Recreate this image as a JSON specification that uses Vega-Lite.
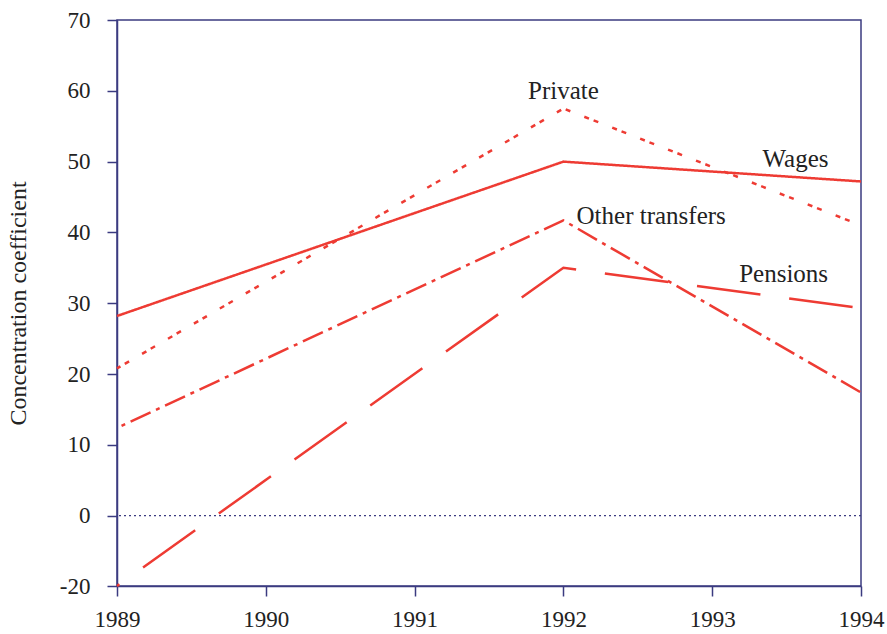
{
  "$schema": "https://vega.github.io/schema/vega-lite/v6.json",
  "autosize": "none",
  "width": 744,
  "height": 566,
  "padding": {"left": 117, "top": 20, "right": 26, "bottom": 48},
  "background": "white",
  "config": {
    "view": {"stroke": "#3b3b80", "strokeWidth": 1.5},
    "font": "Liberation Serif",
    "axis": {
      "domainColor": "#3b3b80",
      "domainWidth": 1.5,
      "tickColor": "#3b3b80",
      "tickWidth": 1.5,
      "tickSize": 10,
      "labelFont": "Liberation Serif",
      "labelFontSize": 23,
      "labelColor": "#222222",
      "titleFont": "Liberation Serif",
      "titleFontSize": 24,
      "titleFontWeight": "normal",
      "titleColor": "#222222",
      "grid": false
    }
  },
  "datasets": {
    "series": [
      {"series": "Wages", "year": 1989, "value": 28.2},
      {"series": "Wages", "year": 1992, "value": 50.0},
      {"series": "Wages", "year": 1994, "value": 47.2},
      {"series": "Private", "year": 1989, "value": 20.8},
      {"series": "Private", "year": 1992, "value": 57.5},
      {"series": "Private", "year": 1994, "value": 41.0},
      {"series": "Other transfers", "year": 1989, "value": 12.4},
      {"series": "Other transfers", "year": 1992, "value": 41.7},
      {"series": "Other transfers", "year": 1994, "value": 17.4},
      {"series": "Pensions", "year": 1989, "value": -20.0},
      {"series": "Pensions", "year": 1992, "value": 35.0},
      {"series": "Pensions", "year": 1994, "value": 29.3}
    ],
    "labels": [
      {"label": "Private", "year": 1992.0, "value": 60.0},
      {"label": "Wages", "year": 1993.56, "value": 50.4},
      {"label": "Other transfers", "year": 1992.59, "value": 42.3},
      {"label": "Pensions", "year": 1993.48, "value": 34.2}
    ],
    "zero": [{"value": 0}]
  },
  "encoding": {
    "x": {
      "field": "year",
      "type": "quantitative",
      "scale": {"domain": [1989, 1994], "nice": false, "zero": false},
      "axis": {
        "title": null,
        "values": [1989, 1990, 1991, 1992, 1993, 1994],
        "format": "d",
        "labelPadding": 12,
        "labelFlush": false
      }
    },
    "y": {
      "field": "value",
      "type": "quantitative",
      "scale": {"domain": [-20, 0, 70], "range": [566, 495.7, 0], "nice": false, "zero": false},
      "axis": {
        "title": "Concentration coefficient",
        "values": [-20, 0, 10, 20, 30, 40, 50, 60, 70],
        "labelExpr": "datum.value < 0 ? '-' + abs(datum.value) : datum.label",
        "labelPadding": 17,
        "titlePadding": 29,
        "labelFlush": false
      }
    }
  },
  "layer": [
    {
      "data": {"name": "zero"},
      "mark": {"type": "rule", "color": "#3b3b80", "strokeWidth": 1.3, "strokeDash": [2, 3]},
      "encoding": {"y": {"field": "value", "type": "quantitative"}, "x": null}
    },
    {
      "data": {"name": "series"},
      "mark": {"type": "line", "color": "#ee3b33", "strokeWidth": 2.5, "strokeDashOffset": 61},
      "encoding": {
        "strokeDash": {
          "field": "series",
          "type": "nominal",
          "scale": {
            "domain": ["Wages", "Private", "Other transfers", "Pensions"],
            "range": [[1, 0], [5, 5, 5, 15], [22, 6, 4, 6], [64, 29]]
          },
          "legend": null
        },
        "detail": {"field": "series"}
      }
    },
    {
      "data": {"name": "labels"},
      "mark": {"type": "text", "font": "Liberation Serif", "fontSize": 25, "color": "#222222", "align": "center", "baseline": "middle"},
      "encoding": {"text": {"field": "label"}}
    }
  ]
}
